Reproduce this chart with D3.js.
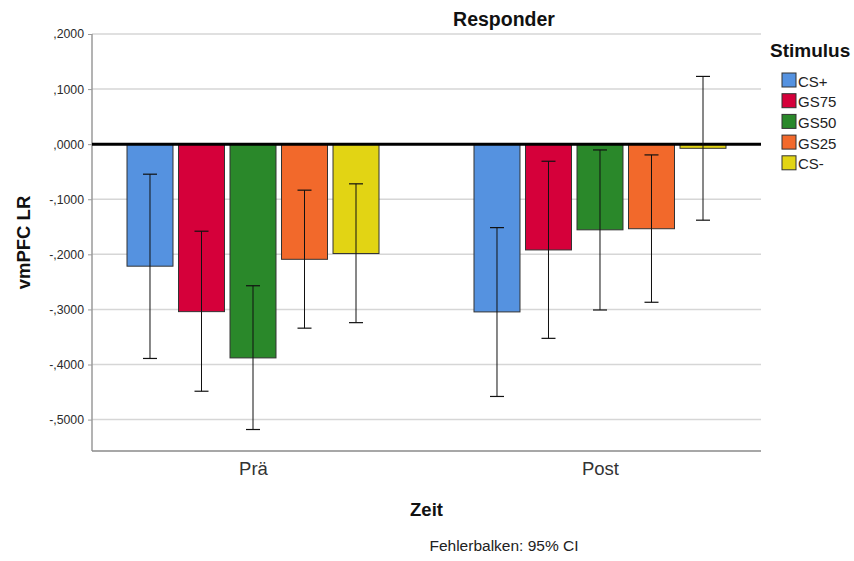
<!DOCTYPE html>
<html>
<head>
<meta charset="utf-8">
<script src="https://cdn.jsdelivr.net/npm/d3@7"></script>
<style>
  html, body { margin: 0; padding: 0; background: #fff; }
  svg { display: block; font-family: "Liberation Sans", Arial, sans-serif; }
</style>
</head>
<body>
<svg id="chart" width="854" height="561"></svg>
<script>
// Groups on the x axis and the stimulus series within each group
const zeit = ["Prä", "Post"];
const stimuli = ["CS+", "GS75", "GS50", "GS25", "CS-"];
const colors = ["#5592e0", "#d5003a", "#2a882a", "#f2692b", "#e2d414"];

// Mean vmPFC LR per stimulus, one array per time point
const meanPrae = [-0.2215, -0.3040, -0.3880, -0.2090, -0.1985];
const meanPost = [-0.3045, -0.1920, -0.1555, -0.1535, -0.0075];

// 95% CI bounds (lower, upper)
const ciLowPrae  = [-0.3890, -0.4485, -0.5180, -0.3340, -0.3240];
const ciHighPrae = [-0.0545, -0.1580, -0.2570, -0.0835, -0.0720];
const ciLowPost  = [-0.4580, -0.3525, -0.3010, -0.2870, -0.1380];
const ciHighPost = [-0.1515, -0.0310, -0.0105, -0.0195,  0.1230];

const yTicks = [0.2, 0.1, 0, -0.1, -0.2, -0.3, -0.4, -0.5];

const rows = [];
zeit.forEach((z, gi) => {
  const m = gi === 0 ? meanPrae : meanPost;
  const lo = gi === 0 ? ciLowPrae : ciLowPost;
  const hi = gi === 0 ? ciHighPrae : ciHighPost;
  stimuli.forEach((s, si) => rows.push({ zeit: z, stim: s, mean: m[si], lo: lo[si], hi: hi[si], color: colors[si] }));
});

const svg = d3.select("#chart");
const plotL = 92, plotR = 761, plotT = 34, plotB = 451;

const y = d3.scaleLinear().domain([-0.557, 0.2]).range([plotB, plotT]);
const x0 = d3.scalePoint().domain(zeit).range([plotL, plotR]).padding(0.464);
const x1 = d3.scaleBand().domain(stimuli).range([-126, 126]).paddingInner(0.107);

// "-,1000" style labels (comma decimal, no leading zero)
const fmt = v => {
  const s = d3.format(".4f")(Math.abs(v)).replace("0.", ",");
  return (v < -1e-9 ? "-" : "") + s;
};

// gridlines
svg.append("g").selectAll("line").data(yTicks.filter(t => t !== 0)).join("line")
  .attr("x1", plotL).attr("x2", plotR)
  .attr("y1", d => y(d)).attr("y2", d => y(d))
  .attr("stroke", "#d6d6d6").attr("stroke-width", 1.5);

// y axis
const yAxis = svg.append("g").attr("transform", `translate(${plotL},0)`)
  .call(d3.axisLeft(y).tickValues(yTicks).tickFormat(fmt).tickSize(4).tickPadding(4));
yAxis.select(".domain").attr("stroke", "#9a9a9a").attr("stroke-width", 1.5)
  .attr("d", `M0,${plotT}V${plotB}`);
yAxis.selectAll(".tick line").attr("stroke", "#9a9a9a");
yAxis.selectAll(".tick text").attr("font-size", 12.3).attr("fill", "#2a2a2a")
  .attr("font-family", "Liberation Sans, Arial, sans-serif");

// x axis
const xAxis = svg.append("g").attr("transform", `translate(0,${plotB})`)
  .call(d3.axisBottom(x0).tickSize(0).tickPadding(11));
xAxis.select(".domain").attr("stroke", "#8a8a8a").attr("stroke-width", 1.5)
  .attr("d", `M${plotL},0H${plotR}`);
xAxis.selectAll(".tick text").attr("font-size", 18.5).attr("fill", "#333")
  .attr("font-family", "Liberation Sans, Arial, sans-serif");

// bars
svg.append("g").selectAll("rect").data(rows).join("rect")
  .attr("x", d => x0(d.zeit) + x1(d.stim))
  .attr("width", x1.bandwidth())
  .attr("y", d => Math.min(y(0), y(d.mean)))
  .attr("height", d => Math.abs(y(d.mean) - y(0)))
  .attr("fill", d => d.color)
  .attr("stroke", "#333").attr("stroke-width", 1);

// zero line
svg.append("line").attr("x1", plotL).attr("x2", plotR)
  .attr("y1", y(0)).attr("y2", y(0))
  .attr("stroke", "#000").attr("stroke-width", 3);

// error bars
const eb = svg.append("g").selectAll("g").data(rows).join("g")
  .attr("transform", d => `translate(${x0(d.zeit) + x1(d.stim) + x1.bandwidth() / 2},0)`);
eb.append("line").attr("y1", d => y(d.lo)).attr("y2", d => y(d.hi))
  .attr("stroke", "#111").attr("stroke-width", 1);
eb.append("line").attr("x1", -7).attr("x2", 7).attr("y1", d => y(d.lo)).attr("y2", d => y(d.lo))
  .attr("stroke", "#111").attr("stroke-width", 1.2);
eb.append("line").attr("x1", -7).attr("x2", 7).attr("y1", d => y(d.hi)).attr("y2", d => y(d.hi))
  .attr("stroke", "#111").attr("stroke-width", 1.2);

// titles
svg.append("text").attr("x", 504).attr("y", 26).attr("text-anchor", "middle")
  .attr("font-size", 19.5).attr("font-weight", "bold").attr("fill", "#111").text("Responder");
svg.append("text").attr("x", (plotL + plotR) / 2).attr("y", 516).attr("text-anchor", "middle")
  .attr("font-size", 18.5).attr("font-weight", "bold").attr("fill", "#111").text("Zeit");
svg.append("text").attr("transform", `translate(30,${(plotT + plotB) / 2}) rotate(-90)`)
  .attr("text-anchor", "middle")
  .attr("font-size", 18.5).attr("font-weight", "bold").attr("fill", "#111").text("vmPFC LR");
svg.append("text").attr("x", 504).attr("y", 551).attr("text-anchor", "middle")
  .attr("font-size", 15.5).attr("fill", "#222").text("Fehlerbalken: 95% CI");

// legend
const lg = svg.append("g");
lg.append("text").attr("x", 770).attr("y", 57).attr("font-size", 19).attr("font-weight", "bold")
  .attr("fill", "#111").text("Stimulus");
const li = lg.selectAll("g.item").data(stimuli).join("g").attr("class", "item")
  .attr("transform", (d, i) => `translate(782,${73 + i * 20.7})`);
li.append("rect").attr("width", 14).attr("height", 14)
  .attr("fill", (d, i) => colors[i]).attr("stroke", "#333").attr("stroke-width", 1);
li.append("text").attr("x", 16).attr("y", 13.5).attr("font-size", 15).attr("fill", "#222").text(d => d);
</script>
</body>
</html>
